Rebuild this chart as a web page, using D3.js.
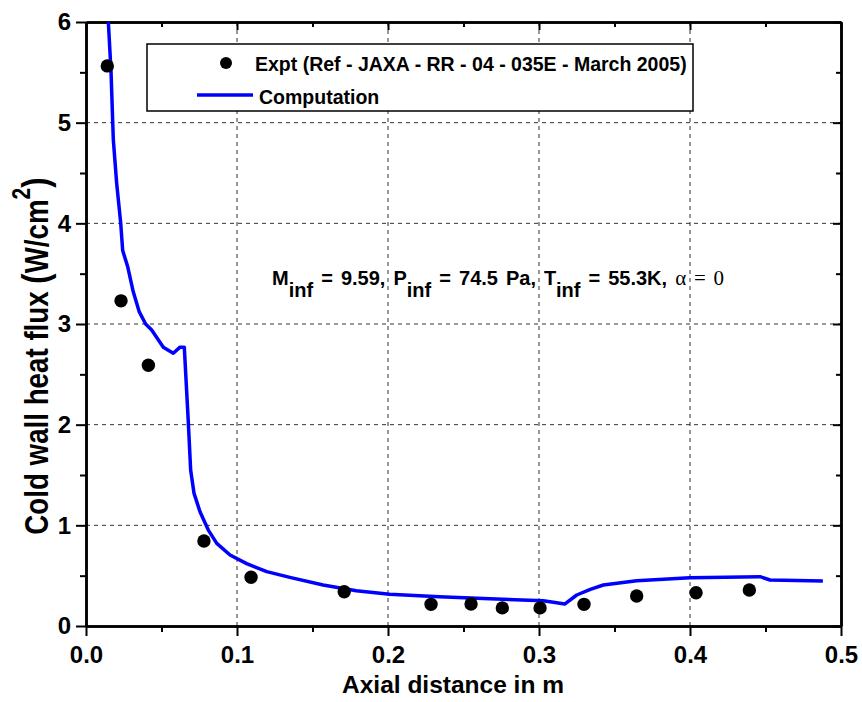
<!DOCTYPE html>
<html>
<head>
<meta charset="utf-8">
<script src="https://cdn.jsdelivr.net/npm/d3@7"></script>
<style>
  body { margin: 0; background: #fff; }
  svg text { font-family: "Liberation Sans", Arial, sans-serif; font-weight: bold; fill: #000; }
</style>
</head>
<body>
<svg id="chart" width="862" height="702"></svg>
<script>
// experiment (dots)
const exptX = [0.0141, 0.0232, 0.0413, 0.0781, 0.1093, 0.171, 0.2285, 0.255, 0.2757, 0.3007, 0.3298, 0.3647, 0.404, 0.4393];
const exptY = [5.564, 3.23, 2.59, 0.844, 0.484, 0.34, 0.215, 0.218, 0.18, 0.18, 0.215, 0.298, 0.33, 0.357];

// computation (line)
const compX = [0.0148, 0.0166, 0.0177, 0.0181, 0.0203, 0.0230, 0.0243, 0.0276, 0.0313, 0.0353, 0.0395, 0.0435,
  0.0512, 0.0578, 0.0623, 0.0651, 0.0678, 0.0693, 0.0715, 0.0755, 0.0810, 0.0866, 0.0954, 0.1064, 0.1197,
  0.1350, 0.1570, 0.1790, 0.2010, 0.2340, 0.2675, 0.3028, 0.3117, 0.3170, 0.3250, 0.3340, 0.3426, 0.3647,
  0.4000, 0.4464, 0.4530, 0.4880];
const compY = [6.0, 5.5, 5.0, 4.83, 4.4, 4.0, 3.73, 3.57, 3.32, 3.12, 3.0, 2.94,
  2.77, 2.71, 2.77, 2.77, 2.01, 1.55, 1.32, 1.135, 0.953, 0.821, 0.705, 0.62, 0.54,
  0.483, 0.407, 0.35, 0.315, 0.29, 0.27, 0.251, 0.231, 0.218, 0.308, 0.364, 0.407, 0.45,
  0.48, 0.49, 0.457, 0.447];

const xTicks = [0, 0.1, 0.2, 0.3, 0.4, 0.5];
const xMinor = [0.05, 0.15, 0.25, 0.35, 0.45];
const yTicks = [0, 1, 2, 3, 4, 5, 6];
const yMinor = [0.5, 1.5, 2.5, 3.5, 4.5, 5.5];
const exptLabel = "Expt (Ref - JAXA - RR - 04 - 035E - March 2005)";
const compLabel = "Computation";
// flow conditions
const condNames = ["M", "P", "T"];
const condValues = [" = 9.59, ", " = 74.5 Pa, ", " = 55.3K, "];

const W = 862, H = 702;
const margin = {top: 22, right: 21, bottom: 76, left: 86};

const svg = d3.select("#chart");

const x = d3.scaleLinear().domain([0, 0.5]).range([margin.left, W - margin.right]);
const y = d3.scaleLinear().domain([0, 6]).range([H - margin.bottom, margin.top]);

// grid
const grid = svg.append("g");
grid.selectAll(".gx")
  .data(xTicks.slice(1, -1))
  .join("line")
  .attr("x1", d => x(d)).attr("x2", d => x(d))
  .attr("y1", y(0)).attr("y2", y(6))
  .attr("stroke", "#333").attr("stroke-width", 1).attr("stroke-dasharray", "4,4");
grid.selectAll(".gy")
  .data(yTicks.slice(1, -1))
  .join("line")
  .attr("x1", x(0)).attr("x2", x(0.5))
  .attr("y1", d => y(d)).attr("y2", d => y(d))
  .attr("stroke", "#333").attr("stroke-width", 1).attr("stroke-dasharray", "4,4");

function styleAxis(g) {
  g.selectAll("path").attr("stroke", "#000").attr("stroke-width", 2.5);
  g.selectAll("line").attr("stroke", "#000").attr("stroke-width", 2);
  g.selectAll("text").attr("font-size", 24).attr("font-family", "Liberation Sans, Arial, sans-serif").attr("font-weight", "bold");
}

// bottom
svg.append("g").attr("transform", `translate(0,${y(0)})`)
  .call(d3.axisBottom(x).tickValues(xTicks).tickFormat(d3.format(".1f")).tickSize(10).tickPadding(10).tickSizeOuter(0))
  .call(styleAxis);
svg.append("g").attr("transform", `translate(0,${y(0)})`)
  .call(d3.axisBottom(x).tickValues(xMinor).tickFormat("").tickSize(6).tickSizeOuter(0))
  .call(styleAxis);
// top
svg.append("g").attr("transform", `translate(0,${y(6)})`)
  .call(d3.axisTop(x).tickValues(xTicks).tickFormat("").tickSize(-8).tickSizeOuter(0))
  .call(styleAxis);
svg.append("g").attr("transform", `translate(0,${y(6)})`)
  .call(d3.axisTop(x).tickValues(xMinor).tickFormat("").tickSize(-5).tickSizeOuter(0))
  .call(styleAxis);
// left
svg.append("g").attr("transform", `translate(${x(0)},0)`)
  .call(d3.axisLeft(y).tickValues(yTicks).tickFormat(d3.format("d")).tickSize(10).tickPadding(5).tickSizeOuter(0))
  .call(styleAxis);
svg.append("g").attr("transform", `translate(${x(0)},0)`)
  .call(d3.axisLeft(y).tickValues(yMinor).tickFormat("").tickSize(6).tickSizeOuter(0))
  .call(styleAxis);
// right
svg.append("g").attr("transform", `translate(${x(0.5)},0)`)
  .call(d3.axisRight(y).tickValues(yTicks).tickFormat("").tickSize(-8).tickSizeOuter(0))
  .call(styleAxis);
svg.append("g").attr("transform", `translate(${x(0.5)},0)`)
  .call(d3.axisRight(y).tickValues(yMinor).tickFormat("").tickSize(-5).tickSizeOuter(0))
  .call(styleAxis);

// computation curve
const comp = compX.map((d, i) => [d, compY[i]]);
svg.append("path")
  .datum(comp)
  .attr("fill", "none")
  .attr("stroke", "#0000ff")
  .attr("stroke-width", 3.5)
  .attr("stroke-linejoin", "round")
  .attr("d", d3.line().x(d => x(d[0])).y(d => y(d[1])));

// experiment dots
svg.selectAll(".dot")
  .data(exptX.map((d, i) => [d, exptY[i]]))
  .join("circle")
  .attr("class", "dot")
  .attr("cx", d => x(d[0]))
  .attr("cy", d => y(d[1]))
  .attr("r", 6.7)
  .attr("fill", "#000");

// legend
const lg = svg.append("g");
lg.append("rect").attr("x", 147).attr("y", 44).attr("width", 546).attr("height", 67)
  .attr("fill", "#fff").attr("stroke", "#000").attr("stroke-width", 1.5);
lg.append("circle").attr("cx", 226).attr("cy", 63).attr("r", 6).attr("fill", "#000");
lg.append("text").attr("x", 255).attr("y", 71).attr("font-size", 19.5).text(exptLabel);
lg.append("line").attr("x1", 197).attr("x2", 253).attr("y1", 95).attr("y2", 95)
  .attr("stroke", "#0000ff").attr("stroke-width", 3.5);
lg.append("text").attr("x", 259).attr("y", 104).attr("font-size", 19.5).text(compLabel);

// annotation
const ann = svg.append("text").attr("x", 272).attr("y", 285)
  .attr("font-size", 20).attr("word-spacing", 2.5).attr("xml:space", "preserve")
  .style("white-space", "pre");
condNames.forEach((n, i) => {
  ann.append("tspan").text(n);
  ann.append("tspan").attr("dy", 12).text("inf");
  ann.append("tspan").attr("dy", -12).text(condValues[i]);
});
ann.append("tspan")
  .attr("font-family", "Liberation Serif, Times New Roman, serif")
  .attr("font-weight", "normal").attr("font-size", 21).text("\u03b1 = 0");

// axis titles
svg.append("text")
  .attr("x", 453).attr("y", 693)
  .attr("text-anchor", "middle").attr("font-size", 24.5)
  .text("Axial distance in m");

const yt = svg.append("text")
  .attr("transform", "translate(48,356) rotate(-90) scale(0.84,1)")
  .attr("text-anchor", "middle").attr("font-size", 33);
yt.append("tspan").text("Cold wall heat flux ");
yt.append("tspan").attr("font-size", 37).text("(");
yt.append("tspan").text("W/cm");
yt.append("tspan").attr("font-size", 25).attr("dy", -18).text("2");
yt.append("tspan").attr("font-size", 37).attr("dy", 18).text(")");
</script>
</body>
</html>
